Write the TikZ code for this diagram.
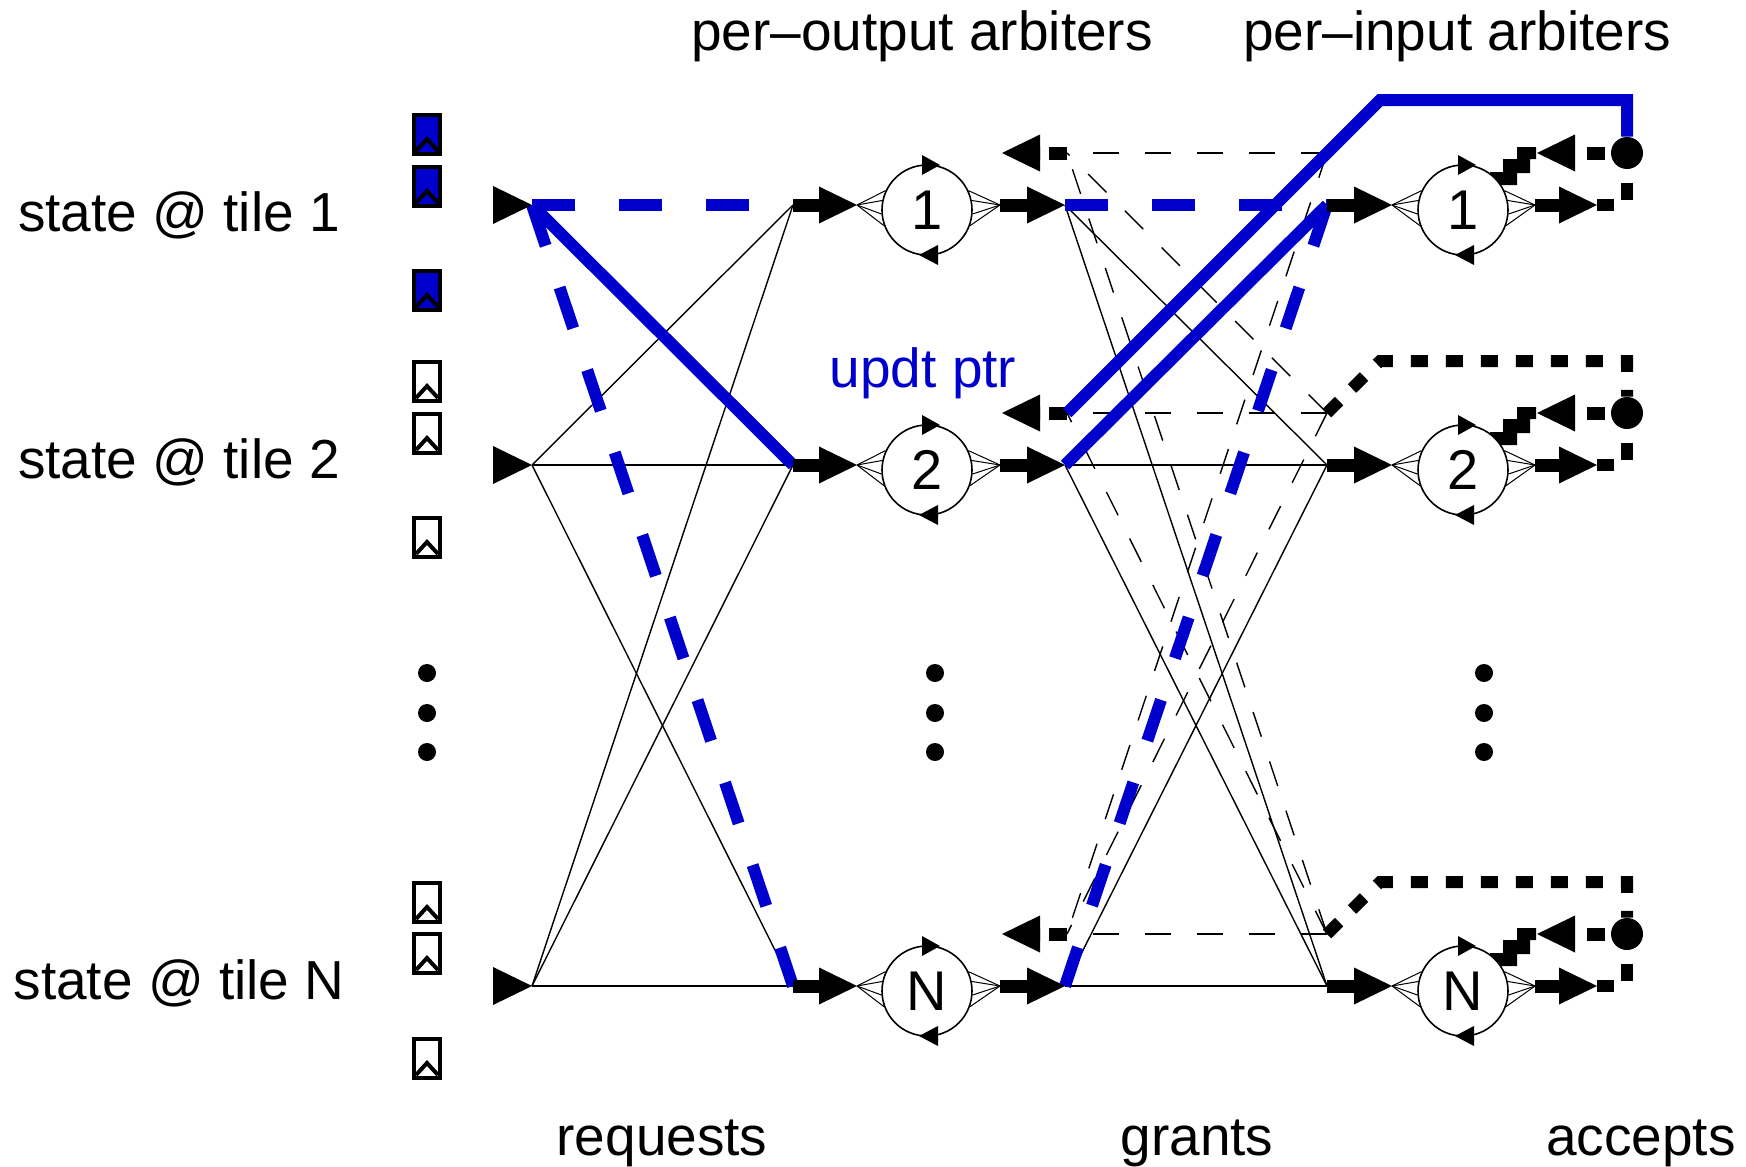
\documentclass[tikz,border=0pt]{standalone}
\usepackage{fontspec}
\setmainfont{Liberation Sans}
\usepackage{tikz}
\usetikzlibrary{arrows.meta,calc}
\usepackage{xcolor}
\definecolor{ptrblue}{RGB}{0,0,205}

\begin{document}
\begin{tikzpicture}[x=0.5pt,y=-0.5pt,
    lbl/.style={font=\fontsize{27.5}{33}\selectfont,anchor=base,inner sep=0pt},
    arb/.style={circle,draw,line width=0.8pt,fill=white,minimum size=45pt,inner sep=0pt,font=\fontsize{28}{34}\selectfont},
    mesh/.style={line width=0.7pt},
    meshdash/.style={line width=0.7pt,dash pattern=on 13pt off 13pt},
    fan/.style={line width=0.5pt},
    fatarrow/.style={line width=6.5pt,-{Triangle[length=19pt,width=18.5pt,line width=0pt]}},
    ptrarrow/.style={fatarrow,dash pattern=on 9pt off 4.5pt},
    accarrow/.style={fatarrow,dash pattern=on 9pt off 7pt,shorten <=3pt},
    accline/.style={line width=6pt,dash pattern=on 8.5pt off 9pt},
    hilite/.style={ptrblue,line width=6pt},
    hilitedash/.style={hilite,dash pattern=on 21.5pt off 22pt},
    qslot/.style={draw,line width=2pt,minimum width=13pt,minimum height=19.5pt,inner sep=0pt}]
  \useasboundingbox (0,0) rectangle (1746,1167);

  % Puntos de cada fila
  \foreach \r/\y in {1/205,2/465,N/986}{
    \coordinate (in-\r) at (532,\y);
    \coordinate (oa-\r) at (793,\y);
    \coordinate (oaL-\r) at (857,\y);
    \coordinate (oaR-\r) at (1000,\y);
    \coordinate (g-\r) at (1065,\y);
    \coordinate (upd-\r) at (1067,\y-52);
    \coordinate (updtip-\r) at (1002,\y-52);
    \coordinate (ia-\r) at (1327,\y);
    \coordinate (iaL-\r) at (1392,\y);
    \coordinate (iaR-\r) at (1535,\y);
    \coordinate (acc-\r) at (1597,\y);
    \coordinate (fb-\r) at (1327,\y-52);
    \coordinate (stair-\r) at (1537,\y-52);
    \coordinate (oc-\r) at (927,\y+5);
    \coordinate (ic-\r) at (1463,\y+5);
  }

  % Requests y grants
  \foreach \a in {2,N}
    \foreach \b in {1,2,N}
      \draw[mesh] (in-\a) -- (oa-\b);
  \foreach \a in {1,2,N}
    \foreach \b in {2,N}
      \draw[mesh] (g-\a) -- (ia-\b);
  \foreach \a in {1,2,N}
    \foreach \b in {1,2,N}
      \draw[meshdash] (fb-\a) -- (upd-\b);

  % Camino resaltado
  \draw[hilitedash] (in-1) -- (oa-1);
  \draw[hilitedash] (in-1) -- (oa-N);
  \draw[hilite] (oa-2) -- (in-1);
  \draw[hilitedash] (g-1) -- (ia-1);
  \draw[hilite] (g-2) -- (ia-1);
  \draw[hilitedash] (ia-1) -- (g-N);

  % Arbitros
  \foreach \r/\y in {1/205,2/465,N/986}{
    \fill (in-\r) -- ++(-39,-19) -- ++(0,38) -- cycle;
    \draw[fatarrow] (oa-\r) -- (oaL-\r);
    \draw[fatarrow] (oaR-\r) -- (g-\r);
    \draw[fatarrow] (ia-\r) -- (iaL-\r);
    \draw[fatarrow] (iaR-\r) -- (acc-\r);
    \draw[ptrarrow] (upd-\r) -- (updtip-\r);
    \fill (ic-\r) ++(54,-63) -- ++(19,0) -- ++(0,12) -- ++(-6,0) -- ++(0,14) -- ++(-13,0)
      -- ++(0,12) -- ++(-27,0) -- ++(0,-13) -- ++(13,0) -- ++(0,-13) -- ++(14,0) -- cycle;
    \node[arb] (oarb-\r) at (oc-\r) {\r};
    \node[arb] (iarb-\r) at (ic-\r) {\r};
    \foreach \a in {155,168,185,200}{
      \draw[fan] (oaL-\r) -- (oarb-\r.\a);
      \draw[fan] (iaL-\r) -- (iarb-\r.\a);
    }
    \foreach \a in {25,12,-5,-20}{
      \draw[fan] (oaR-\r) -- (oarb-\r.\a);
      \draw[fan] (iaR-\r) -- (iarb-\r.\a);
    }
    \foreach \c in {oarb,iarb}{
      \fill (\c-\r.center) ++(-5,-55) -- ++(0,20) -- ++(18,-10) -- cycle;
      \fill (\c-\r.center) ++(11,35) -- ++(0,20) -- ++(-19,-10) -- cycle;
    }
    \node[circle,fill,inner sep=0pt,minimum size=16pt] (dot-\r) at (1627,\y-52) {};
    \draw[accarrow] (dot-\r) -- (stair-\r);
    \draw[accline] (acc-\r) -| (dot-\r);
  }
  \foreach \r in {2,N}
    \draw[accline] (fb-\r) -- ++(53,-52) -| (dot-\r);
  \draw[hilite] (dot-1) -- ++(0,-53) -- ++(-247,0) -- (upd-2);

  % Colas de estado
  \foreach \yy/\c [count=\k] in {134/ptrblue,186/ptrblue,290/ptrblue,381/white,433/white,
      537/white,902/white,953/white,1058/white}{
    \node[qslot,fill=\c] (q-\k) at (427,\yy) {};
    \draw[line width=2pt] (q-\k.center) ++(-11,17) -- ++(11,-12) -- ++(11,12);
  }
  \foreach \xx in {427,935,1484}
    \foreach \yy in {673,713,752}
      \fill (\xx,\yy) circle (4.5pt);

  % Textos
  \node[lbl] (tile-1) at (179,231) {state @ tile 1};
  \node[lbl] (tile-2) at (179,478) {state @ tile 2};
  \node[lbl] (tile-N) at (179,999) {state @ tile N};
  \node[lbl] (hd-out) at (922,50) {per--output arbiters};
  \node[lbl] (hd-in) at (1457,50) {per--input arbiters};
  \node[lbl] (ft-req) at (662,1155) {requests};
  \node[lbl] (ft-gnt) at (1197,1155) {grants};
  \node[lbl] (ft-acc) at (1641,1155) {accepts};
  \node[lbl,text=ptrblue] (updt) at (923,387) {updt ptr};
\end{tikzpicture}
\end{document}
